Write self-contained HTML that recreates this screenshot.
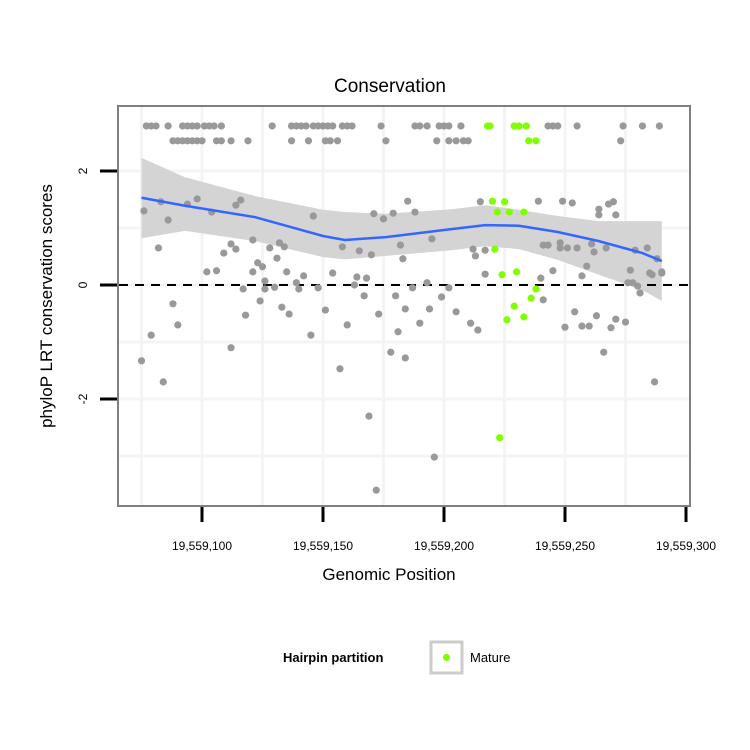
<!DOCTYPE html>
<html><head><meta charset="utf-8">
<style>
html,body{margin:0;padding:0;background:#fff;}
svg{display:block;font-family:"Liberation Sans",sans-serif;}
</style></head>
<body>
<svg id="chart" width="750" height="750" viewBox="0 0 750 750" xmlns="http://www.w3.org/2000/svg">
<rect width="750" height="750" fill="#fff"/>
<text x="390" y="92" text-anchor="middle" font-size="19">Conservation</text>
<g id="grid"></g>
<g id="band"></g>
<g id="points"></g>
<rect x="118" y="106" width="572" height="400" fill="none" stroke="#7f7f7f" stroke-width="2"/>
<g id="axes"></g>
<text x="389" y="580" text-anchor="middle" font-size="17">Genomic Position</text>
<text transform="translate(52,306) rotate(-90)" text-anchor="middle" font-size="17">phyloP LRT conservation scores</text>
<g>
<text x="283" y="662" font-size="13" font-weight="bold">Hairpin partition</text>
<rect x="431" y="642" width="31" height="31" fill="#fff" stroke="#cccccc" stroke-width="3"/>
<circle cx="446.5" cy="657.5" r="3.6" fill="#7fff00"/>
<text x="470" y="662" font-size="13">Mature</text>
</g>
</svg>
<script>
const BASE = 19559000;
const xTicks = [19559100, 19559150, 19559200, 19559250, 19559300];
const xTickLabels = ["19,559,100","19,559,150","19,559,200","19,559,250","19,559,300"];
const yTicks = [2, 0, -2];
const yTickLabels = ["2","0","-2"];
// gray points (position offsets from BASE, score)
const grayPos = [77,79,81,86,92,94,96,98,101,103,105,108,129,137,139,141,143,146,148,150,152,154,158,160,162,174,188,190,193,198,200,202,207,243,245,247,255,274,282,289,
88,90,92,94,96,98,100,106,108,112,119,137,144,151,153,156,176,197,202,205,208,210,273,
76,75,79,82,83,84,86,88,90,94,98,102,106,104,109,112,112,114,114,116,117,118,121,121,123,124,125,126,126,128,130,131,132,133,134,135,136,139,140,142,145,146,148,151,154,157,158,160,163,164,165,168,167,169,170,171,172,173,175,178,179,180,181,182,183,184,184,185,188,187,190,193,194,195,196,199,202,205,211,212,213,214,215,217,217,
241,243,248,248,251,255,239,240,241,245,249,253,250,254,257,260,257,259,261,262,263,264,264,266,267,268,269,270,271,271,275,276,277,278,279,280,281,284,285,286,287,288,290,290];
const grayScore = [2.79,2.79,2.79,2.79,2.79,2.79,2.79,2.79,2.79,2.79,2.79,2.79,2.79,2.79,2.79,2.79,2.79,2.79,2.79,2.79,2.79,2.79,2.79,2.79,2.79,2.79,2.79,2.79,2.79,2.79,2.79,2.79,2.79,2.79,2.79,2.79,2.79,2.79,2.79,2.79,
2.53,2.53,2.53,2.53,2.53,2.53,2.53,2.53,2.53,2.53,2.53,2.53,2.53,2.53,2.53,2.53,2.53,2.53,2.53,2.53,2.53,2.53,2.53,
1.30,-1.33,-0.88,0.65,1.46,-1.70,1.14,-0.33,-0.70,1.42,1.51,0.23,0.25,1.28,0.56,-1.10,0.72,1.40,0.63,1.49,-0.07,-0.53,0.23,0.79,0.39,-0.28,0.32,-0.07,0.07,0.65,-0.04,0.47,0.74,-0.39,0.67,0.23,-0.51,0.04,-0.07,0.16,-0.88,1.21,-0.05,-0.44,0.21,-1.47,0.67,-0.70,0.00,0.14,0.60,0.12,-0.19,-2.30,0.53,1.25,-3.60,-0.51,1.16,-1.18,1.26,-0.19,-0.82,0.70,0.46,-1.28,-0.42,1.47,1.28,-0.05,-0.67,0.04,-0.42,0.81,-3.02,-0.21,-0.05,-0.47,-0.67,0.63,0.51,-0.79,1.46,0.61,0.19,
0.70,0.70,0.74,0.65,0.65,0.65,1.47,0.12,-0.26,0.25,1.47,1.44,-0.74,-0.47,-0.72,-0.72,0.16,0.33,0.72,0.58,-0.54,1.33,1.23,-1.18,0.65,1.42,-0.75,1.46,1.23,-0.60,-0.65,0.04,0.26,0.04,0.61,-0.02,-0.14,0.65,0.21,0.18,-1.70,0.46,0.21,0.23];
const greenPos = [218,219,229,231,234,235,238,220,225,222,227,233,221,224,230,238,236,229,233,226,223];
const greenScore = [2.79,2.79,2.79,2.79,2.79,2.53,2.53,1.47,1.46,1.28,1.28,1.28,0.63,0.18,0.23,-0.07,-0.23,-0.37,-0.56,-0.61,-2.68];
const smoothPos = [75,93,122,150,159,176,203,217,231,247,264,282,290];
const smoothFit = [1.53,1.39,1.19,0.86,0.79,0.84,0.98,1.05,1.04,0.93,0.77,0.56,0.42];
const smoothUpper = [2.23,1.89,1.56,1.32,1.28,1.25,1.33,1.40,1.32,1.21,1.12,1.12,1.12];
const smoothLower = [0.82,0.95,0.77,0.49,0.45,0.51,0.61,0.68,0.63,0.44,0.18,-0.09,-0.28];

const NS = "http://www.w3.org/2000/svg";
function xs(v){ return 202 + (v - 19559100) * 2.42; }
function ys(v){ return 285 - v * 57; }
function mk(tag, attrs, parent){ const e = document.createElementNS(NS, tag); for (const k in attrs) e.setAttribute(k, attrs[k]); parent.appendChild(e); return e; }

const grid = document.getElementById('grid');
[-3,-2,-1,0,1,2].forEach(v => {
  const l = mk('line', {x1:119, x2:689, y1:ys(v), y2:ys(v), stroke:'#f4f4f4', 'stroke-width': 3}, grid);
  
  
});
[19559075,19559100,19559125,19559150,19559175,19559200,19559225,19559250,19559275].forEach(v => {
  const l = mk('line', {x1:xs(v), x2:xs(v), y1:107, y2:505, stroke:'#f4f4f4', 'stroke-width': 3}, grid);
  
  
});

const band = document.getElementById('band');
let up = smoothPos.map((p,i)=>xs(BASE+p)+','+ys(smoothUpper[i]));
let lo = smoothPos.map((p,i)=>xs(BASE+p)+','+ys(smoothLower[i])).reverse();
const poly = mk('polygon', {points: up.concat(lo).join(' '), fill:'#d4d4d4'}, band);



const dash = mk('line', {x1:119, x2:689, y1:ys(0), y2:ys(0), stroke:'#000', 'stroke-width':2, 'stroke-dasharray':'9,7'}, band);



const pts = document.getElementById('points');
grayPos.forEach((p,i) => {
  const c = mk('circle', {cx: xs(BASE+p), cy: ys(grayScore[i]), r: 3.6, fill:'#999999'}, pts);
  
  
});
greenPos.forEach((p,i) => {
  const c = mk('circle', {cx: xs(BASE+p), cy: ys(greenScore[i]), r: 3.6, fill:'#7fff00'}, pts);
  
  
});
const line = mk('polyline', {points: smoothPos.map((p,i)=>xs(BASE+p)+','+ys(smoothFit[i])).join(' '), fill:'none', stroke:'#3366ff', 'stroke-width':2.5}, pts);



const axes = document.getElementById('axes');
xTicks.forEach((v,i) => {
  const t = mk('line', {x1:xs(v), x2:xs(v), y1:507, y2:522, stroke:'#000', 'stroke-width':3}, axes);
  
  
  const tx = mk('text', {x:xs(v), y:550, 'text-anchor':'middle', 'font-size':12}, axes);
  tx.textContent = xTickLabels[i];
  
  
});
yTicks.forEach((v,i) => {
  const t = mk('line', {x1:100, x2:117, y1:ys(v), y2:ys(v), stroke:'#000', 'stroke-width':3}, axes);
  
  
  const tx = mk('text', {transform:'translate(87,'+ys(v)+') rotate(-90)', 'text-anchor':'middle', 'font-size':12}, axes);
  tx.textContent = yTickLabels[i];
  
  
});
</script>
</body></html>
